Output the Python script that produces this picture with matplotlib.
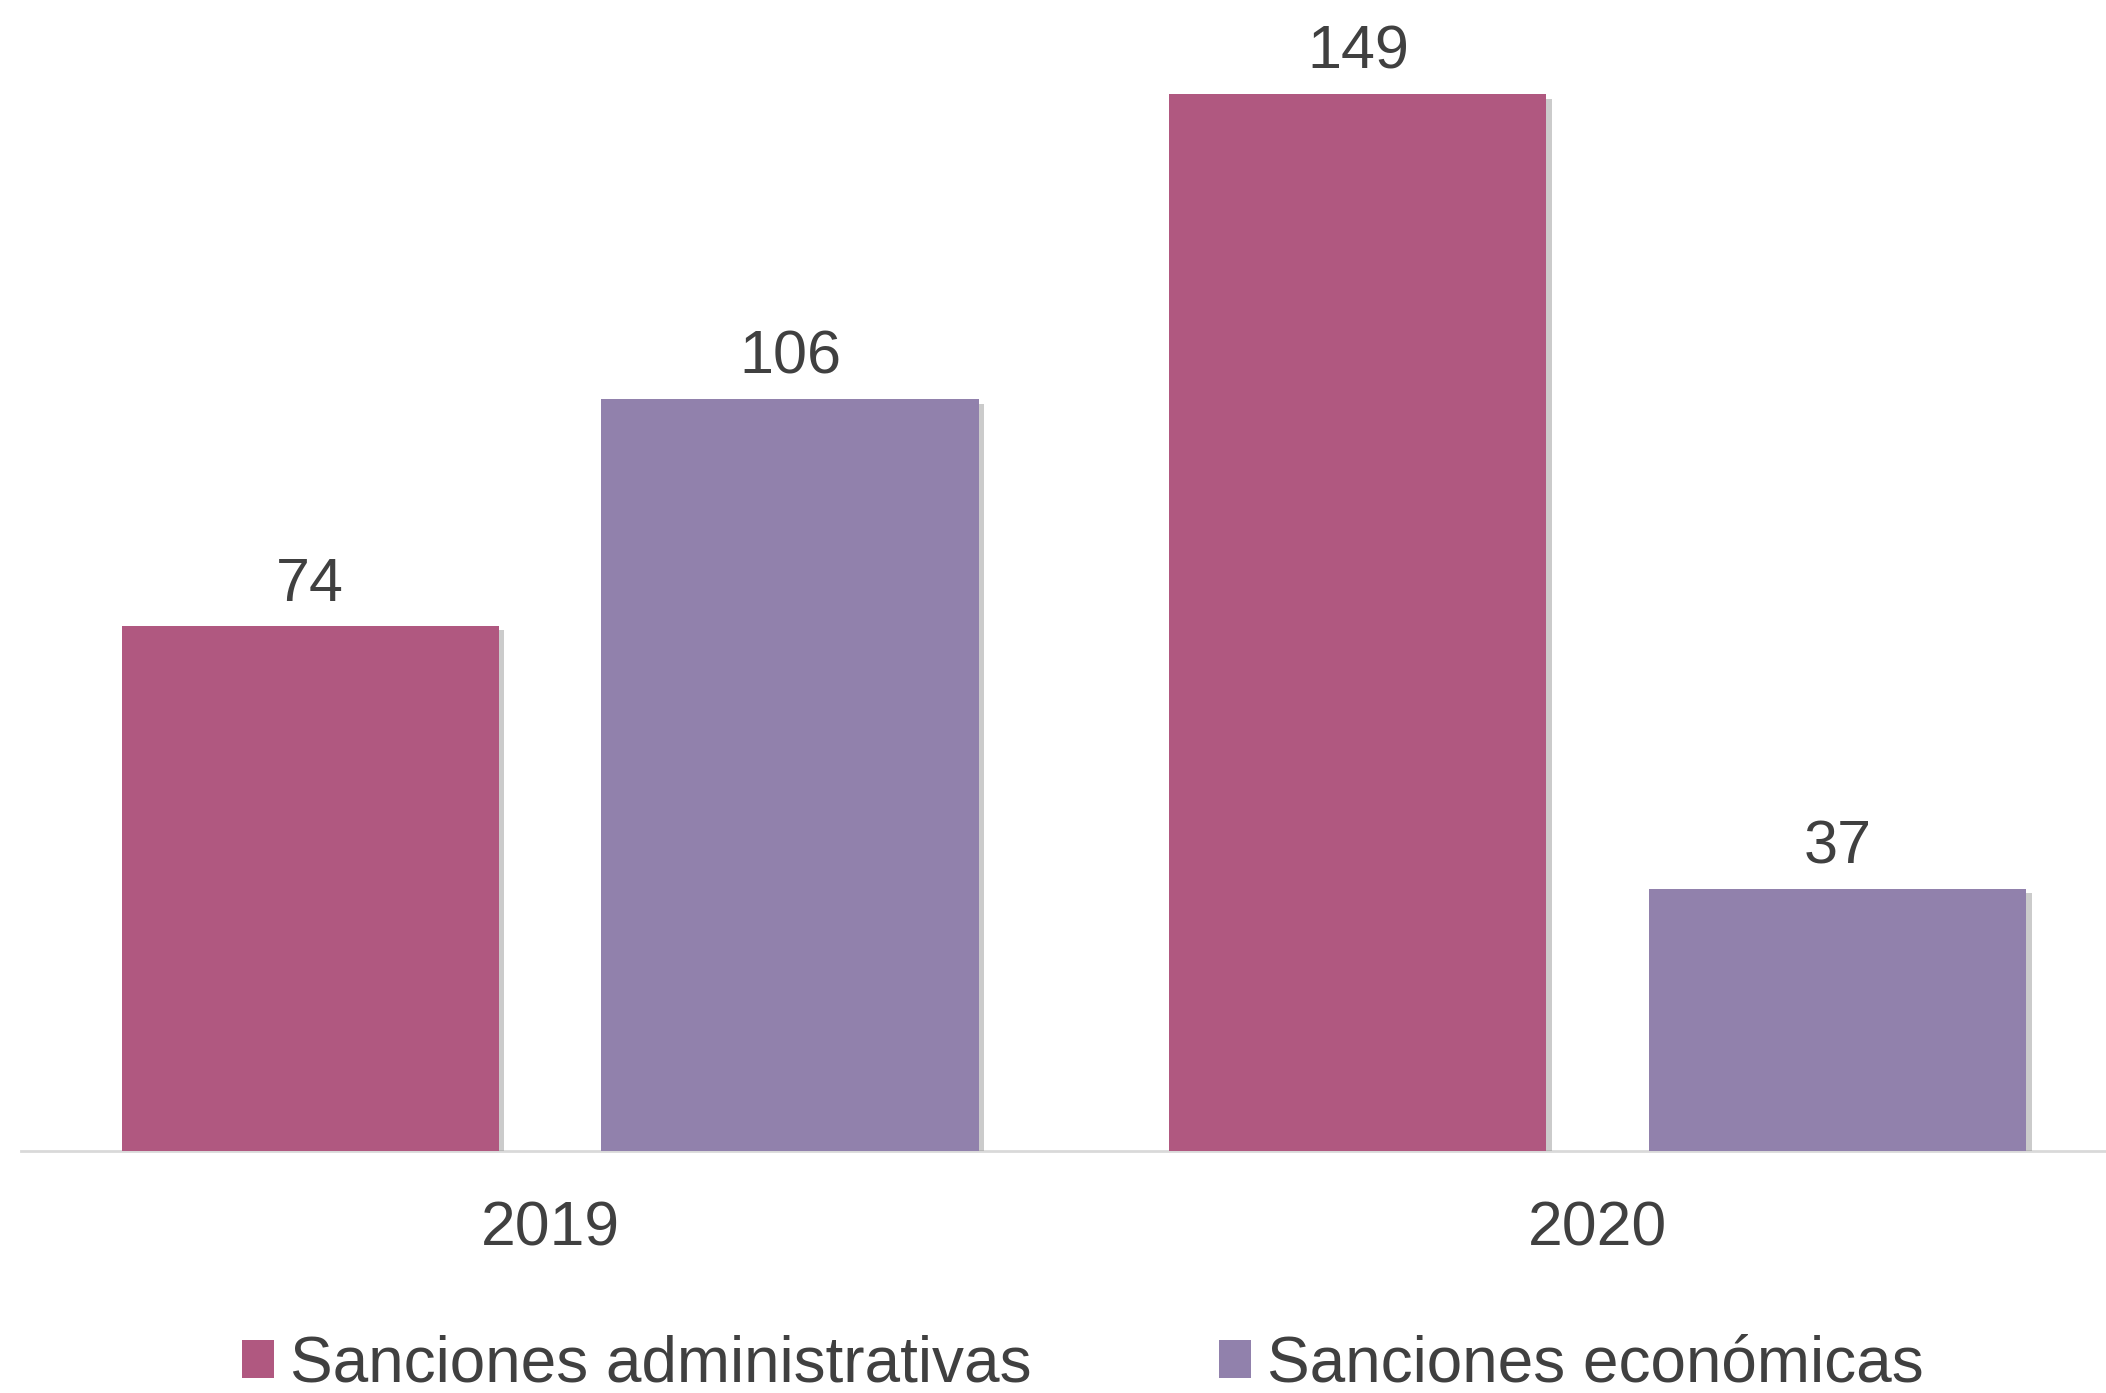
import numpy as np
import matplotlib
matplotlib.use("Agg")
import matplotlib.pyplot as plt
import matplotlib.patheffects as pe
from matplotlib.patches import Patch

years = ["2019", "2020"]
series_names = ["Sanciones administrativas", "Sanciones económicas"]
admin = [74, 149]
econ = [106, 37]

colors = ["#B05880", "#9181AC"]
text_col = "#404040"

plt.rcParams['font.family'] = ['Liberation Sans', 'DejaVu Sans']

fig = plt.figure(figsize=(21.06, 13.93), dpi=100)
ax = fig.add_axes([16 / 1568, 180 / 1037, 1552 / 1568, 857 / 1037])

x = np.arange(len(years))
w = 0.36
off = 0.229
shadow = [pe.SimplePatchShadow(offset=(4, -3), shadow_rgbFace="#7f7f7f", alpha=0.4), pe.Normal()]

for vals, dx, c in [(admin, -off, colors[0]), (econ, off, colors[1])]:
    bars = ax.bar(x + dx, vals, width=w, color=c, zorder=3)
    for b in bars:
        b.set_path_effects(shadow)
    for xi, v in zip(x + dx, vals):
        ax.annotate(str(v), (xi, v), xytext=(0, 9), textcoords="offset points",
                    ha="center", va="bottom", fontsize=44, color=text_col)

ax.set_xlim(-0.5045, 1.485)
ax.set_ylim(0, 162.3)
ax.set_xticks(x)
ax.set_xticklabels(years, fontsize=45, color=text_col)
ax.tick_params(axis="x", length=0, pad=35)
ax.set_yticks([])
for s in ["top", "right", "left"]:
    ax.spines[s].set_visible(False)
ax.spines["bottom"].set_color("#D9D9D9")
ax.spines["bottom"].set_linewidth(2)
ax.spines["bottom"].set_zorder(1)

handles = [Patch(facecolor=c) for c in colors]
fig.legend(handles, series_names, loc="center", bbox_to_anchor=(0.514, 1 - 1016 / 1037),
           ncol=2, frameon=False, fontsize=46, labelcolor=text_col,
           handlelength=0.5, handleheight=0.55, handletextpad=0.25, columnspacing=2.94,
           borderpad=0.1)

fig.savefig("out.png", dpi=100, facecolor="white")
